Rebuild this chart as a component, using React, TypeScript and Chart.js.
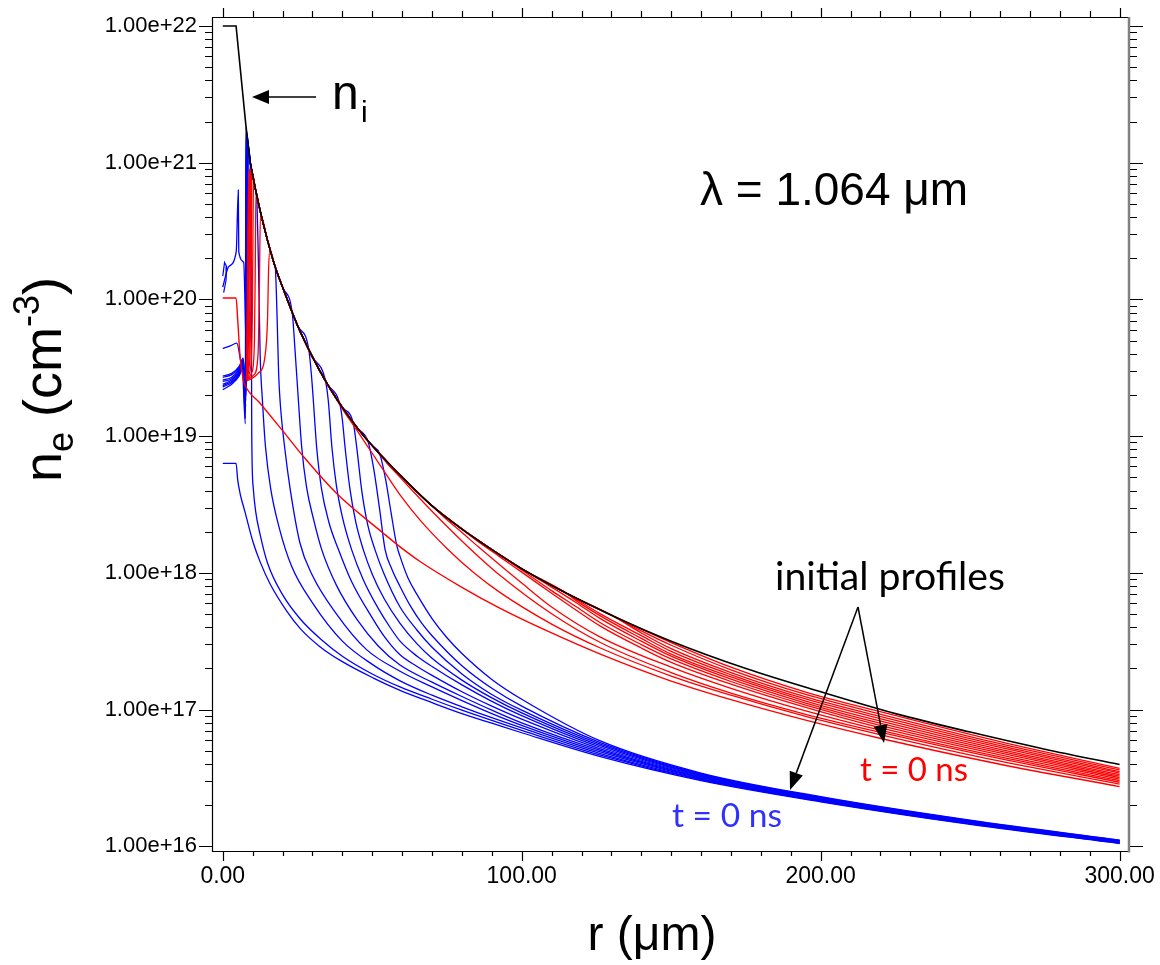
import React, { useEffect, useRef } from 'react';
import { Chart, registerables } from 'chart.js';

Chart.register(...registerables);

type P = [number, number];

// All curve values: [r (µm), log10(n / cm^-3)].

// black n_i curve (steep top part and envelope)
const blackTop: P[] = [[0, 22], [4.45, 22], [7.7, 21.28], [9.2, 21.0]];
const blackR = [9.2, 10, 11, 12.5, 15, 17.5, 20, 25, 30, 35, 40, 45, 50, 60, 70, 80, 90, 100, 115, 130, 150, 175, 200, 225, 250, 275, 300];
const blackLog = [21.0, 20.91, 20.8, 20.65, 20.43, 20.24, 20.09, 19.81, 19.58, 19.38, 19.21, 19.06, 18.93, 18.7, 18.49, 18.32, 18.17, 18.03, 17.85, 17.69, 17.5, 17.3, 17.13, 16.97, 16.835, 16.71, 16.598];

// blue: initial profile (t = 0 ns)
const blueT0: P[] = [[0, 18.8], [4.45, 18.8], [5.0, 18.68], [5.8, 18.58], [7.5, 18.44], [10.2, 18.22], [12.5, 18.08], [15.8, 17.92], [21.4, 17.72], [26, 17.59], [32.5, 17.46], [40, 17.35], [50.4, 17.23], [59.3, 17.14], [70, 17.05], [80, 16.97], [90, 16.9], [100, 16.83], [126.3, 16.655], [160, 16.48], [200, 16.325], [250, 16.16], [300, 16.02]];

// blue later profiles: head (r < 9.2), follows n_i up to envTo, then tail
const blueLater: { head: P[]; envTo: number; tail: P[] }[] = [
  { head: [[0, 19.36], [3, 19.39], [5.5, 19.45], [6.5, 19.5], [7.55, 19.09], [7.72, 21.26], [8.5, 21.1]], envTo: 9.21,
    tail: [[9.5, 20.3], [9.7, 19.0], [10.2, 18.62], [11, 18.45], [12.5, 18.28], [15, 18.07], [20, 17.84], [26, 17.66], [33, 17.51], [40, 17.39], [50, 17.26], [59.3, 17.165], [70, 17.075], [80, 16.995], [90, 16.92], [100, 16.848], [126.3, 16.667], [160, 16.4855], [200, 16.329], [250, 16.163], [300, 16.0225]] },
  { head: [[0, 19.37], [3, 19.4], [5.5, 19.46], [6.6, 19.52], [7.6, 19.13], [7.78, 21.24]], envTo: 11.3,
    tail: [[11.3, 20.77], [11.9, 20.3], [12.5, 19.6], [13.3, 19.25], [14.3, 18.92], [16, 18.62], [19, 18.32], [23, 18.05], [30, 17.78], [40, 17.5], [50, 17.33], [59.3, 17.21], [70, 17.105], [80, 17.02], [90, 16.94], [100, 16.865], [126.3, 16.678], [160, 16.491], [200, 16.3324], [250, 16.166], [300, 16.025]] },
  { head: [[0, 19.38], [3, 19.41], [5.5, 19.47], [6.6, 19.53], [7.65, 19.18], [7.85, 21.22]], envTo: 17.6,
    tail: [[17.6, 20.23], [18.2, 19.85], [18.7, 19.45], [19.3, 19.22], [20.8, 18.9], [22.5, 18.62], [25.8, 18.22], [30, 17.98], [38, 17.7], [48, 17.44], [59.3, 17.28], [70, 17.165], [80, 17.065], [90, 16.97], [100, 16.884], [126.3, 16.6895], [160, 16.4965], [200, 16.336], [250, 16.169], [300, 16.0275]] },
  { head: [[0, 19.4], [3, 19.42], [5.5, 19.48], [6.7, 19.54], [7.7, 19.22], [7.95, 21.2]], envTo: 23.3,
    tail: [[23.3, 19.89], [24.2, 19.62], [25.3, 19.26], [26.4, 18.92], [28, 18.63], [30.5, 18.38], [33.1, 18.17], [38, 17.91], [45, 17.655], [52, 17.465], [59.3, 17.325], [70, 17.2], [80, 17.095], [90, 16.995], [100, 16.902], [126.3, 16.701], [160, 16.502], [200, 16.3398], [250, 16.172], [300, 16.03]] },
  { head: [[0, 19.41], [3, 19.43], [5.5, 19.49], [6.7, 19.55], [7.75, 19.26], [8.05, 21.18]], envTo: 28.8,
    tail: [[28.8, 19.63], [29.8, 19.41], [30.3, 19.26], [31.4, 18.92], [33, 18.62], [35.5, 18.37], [38.7, 18.17], [43, 17.94], [50, 17.67], [54, 17.535], [59.3, 17.4], [65, 17.315], [70, 17.25], [80, 17.13], [90, 17.025], [100, 16.93], [126.3, 16.7125], [160, 16.5075], [200, 16.3435], [250, 16.175], [300, 16.0325]] },
  { head: [[0, 19.43], [3, 19.45], [5.5, 19.5], [6.8, 19.56], [7.8, 19.3], [8.15, 21.16]], envTo: 34.3,
    tail: [[34.3, 19.41], [35.3, 19.26], [36.5, 18.92], [38, 18.64], [40, 18.41], [43.1, 18.17], [47, 17.95], [52, 17.74], [56, 17.6], [59.3, 17.5], [65, 17.39], [70, 17.315], [80, 17.18], [90, 17.06], [100, 16.955], [126.3, 16.724], [160, 16.513], [200, 16.347], [250, 16.178], [300, 16.035]] },
  { head: [[0, 19.44], [3, 19.46], [5.5, 19.51], [6.8, 19.57], [7.85, 19.33], [8.25, 21.14]], envTo: 39.2,
    tail: [[39.2, 19.23], [40, 19.12], [40.9, 18.92], [42.5, 18.62], [44.5, 18.37], [47, 18.17], [50, 17.99], [54, 17.81], [59.3, 17.63], [65, 17.48], [70, 17.375], [80, 17.215], [90, 17.085], [100, 16.975], [126.3, 16.7355], [160, 16.5185], [200, 16.351], [250, 16.181], [300, 16.0375]] },
  { head: [[0, 19.64], [2.5, 19.66], [4.7, 19.68], [6.0, 19.55], [7.9, 19.36], [8.35, 21.12]], envTo: 43.7,
    tail: [[43.7, 19.09], [44.8, 18.92], [46.5, 18.6], [48.5, 18.35], [50.9, 18.17], [54, 17.99], [59.3, 17.75], [65, 17.58], [70, 17.455], [80, 17.26], [90, 17.11], [100, 16.995], [126.3, 16.747], [160, 16.524], [200, 16.355], [250, 16.184], [300, 16.04]] },
  { head: [[0, 20.09], [2, 20.24], [4.5, 20.35], [5.2, 20.8], [5.35, 20.35], [7.0, 20.27], [7.95, 19.6], [8.45, 21.1]], envTo: 48.6,
    tail: [[48.6, 18.96], [50.5, 18.76], [52.5, 18.46], [54.3, 18.17], [56.5, 18.03], [59.3, 17.9], [62.7, 17.76], [66.6, 17.63], [70, 17.54], [80, 17.32], [90, 17.155], [100, 17.025], [126.3, 16.7585], [160, 16.5295], [200, 16.3583], [250, 16.187], [300, 16.0425]] },
  { head: [[0, 19.34], [3, 19.38], [5.5, 19.44], [6.5, 19.49], [8.0, 19.4], [8.55, 21.08]], envTo: 52.5,
    tail: [[52.5, 18.87], [54.5, 18.68], [56.3, 18.44], [58.2, 18.2], [59.3, 18.12], [62, 17.96], [65, 17.84], [70, 17.665], [75, 17.525], [80, 17.41], [90, 17.22], [100, 17.075], [126.3, 16.77], [160, 16.535], [200, 16.362], [250, 16.19], [300, 16.045]] },
];
const blueSquiggle: P[] = [[0, 20.17], [0.6, 20.27], [1.3, 20.24], [1.1, 20.14], [0.3, 20.05]];

// red: initial profile (t = 0 ns)
const redT0: P[] = [[0, 20.01], [4.45, 20.01], [5.0, 19.85], [5.8, 19.58], [6.9, 19.41], [7.5, 19.37], [12.5, 19.24], [20, 19.04], [27, 18.85], [38.1, 18.58], [53.7, 18.29], [59.3, 18.19], [66, 18.083], [80, 17.894], [92.8, 17.74], [110, 17.56], [126.3, 17.405], [150, 17.208], [170, 17.072], [195, 16.922], [219.8, 16.79], [260, 16.6], [300, 16.436]];

// red later profiles: head near the spike, follows n_i from envFrom to envTo, then tail
const redLater: { head: P[]; envFrom: number; envTo: number; tail: P[] }[] = [
  { head: [[7.8, 19.4], [11.9, 19.46], [14.1, 19.58], [15.0, 19.87], [15.3, 20.2], [15.8, 20.36]], envFrom: 17, envTo: 40,
    tail: [[40, 19.2], [44, 19.07], [48, 18.94], [53, 18.775], [59.3, 18.57], [66, 18.385], [74.9, 18.18], [84, 18.0], [92.8, 17.855], [110, 17.625], [126.3, 17.45], [150, 17.245], [170, 17.105], [195, 16.95], [219.8, 16.817], [260, 16.622], [300, 16.455]] },
  { head: [[7.8, 19.41], [10.5, 19.45], [11.8, 19.6], [12.2, 20.0], [12.6, 20.62]], envFrom: 14, envTo: 54,
    tail: [[55, 18.8], [58, 18.73], [62, 18.635], [70, 18.45], [78, 18.275], [85.5, 18.12], [92.8, 17.98], [110, 17.7], [126.3, 17.49], [150, 17.27], [170, 17.12], [195, 16.965], [219.8, 16.834], [260, 16.64], [300, 16.468]] },
  { head: [[7.8, 19.41], [9.8, 19.47], [10.6, 19.7], [10.9, 20.3], [11.1, 20.78]], envFrom: 12, envTo: 72,
    tail: [[74.9, 18.39], [80, 18.295], [85.5, 18.19], [92.8, 18.055], [100, 17.925], [110, 17.75], [126.3, 17.53], [150, 17.31], [170, 17.155], [195, 16.99], [219.8, 16.85], [260, 16.654], [300, 16.48]] },
  { head: [[7.8, 19.42], [9.3, 19.5], [9.9, 19.9], [10.1, 20.5], [10.3, 20.86]], envFrom: 11, envTo: 82,
    tail: [[85, 18.235], [92.8, 18.115], [100, 18.005], [110, 17.85], [118, 17.73], [126.3, 17.61], [140, 17.45], [150, 17.345], [170, 17.185], [195, 17.015], [219.8, 16.867], [260, 16.668], [300, 16.491]] },
  { head: [[7.8, 19.42], [9.0, 19.55], [9.4, 20.0], [9.6, 20.6], [9.8, 20.92]], envFrom: 10.5, envTo: 95,
    tail: [[100, 18.02], [110, 17.87], [118, 17.755], [126.3, 17.635], [140, 17.475], [150, 17.37], [170, 17.205], [195, 17.032], [219.8, 16.884], [260, 16.682], [300, 16.502]] },
  { head: [[7.9, 19.43], [8.8, 19.6], [9.2, 20.2], [9.4, 20.7], [9.7, 20.94]], envFrom: 10.5, envTo: 105,
    tail: [[110, 17.895], [118, 17.785], [126.3, 17.665], [140, 17.5], [150, 17.39], [170, 17.222], [195, 17.047], [219.8, 16.9], [260, 16.695], [300, 16.513]] },
  { head: [[7.9, 19.43], [8.6, 19.7], [8.9, 20.3], [9.3, 20.8], [9.6, 20.95]], envFrom: 10, envTo: 116,
    tail: [[118, 17.8], [126.3, 17.685], [140, 17.52], [150, 17.405], [170, 17.238], [195, 17.062], [219.8, 16.917], [260, 16.709], [300, 16.524]] },
  { head: [[8.0, 19.44], [8.4, 19.8], [8.7, 20.4], [9.2, 20.85], [9.6, 20.95]], envFrom: 10, envTo: 120,
    tail: [[126.3, 17.7], [140, 17.54], [150, 17.425], [170, 17.254], [195, 17.077], [219.8, 16.934], [260, 16.723], [300, 16.535]] },
  { head: [[8.0, 19.45], [8.3, 19.9], [8.6, 20.5], [9.2, 20.9], [9.6, 20.95]], envFrom: 10, envTo: 131,
    tail: [[140, 17.56], [150, 17.445], [170, 17.27], [195, 17.092], [219.8, 16.95], [260, 16.736], [300, 16.546]] },
  { head: [[8.1, 19.46], [8.3, 20.0], [8.6, 20.6], [9.3, 20.95]], envFrom: 10, envTo: 131,
    tail: [[140, 17.575], [150, 17.47], [170, 17.29], [195, 17.11], [219.8, 16.967], [260, 16.75], [300, 16.558]] },
  { head: [[8.1, 19.46], [8.25, 20.1], [8.5, 20.7], [9.3, 20.96]], envFrom: 10, envTo: 131,
    tail: [[150, 17.49], [170, 17.31], [195, 17.128], [219.8, 16.985], [260, 16.765], [300, 16.57]] },
];

// axis ticks and labels
const xTickValues = [0, 100, 200, 300];
const xTickLabels = ['0.00', '100.00', '200.00', '300.00'];
const xMinorStep = 10;
const yTickExponents = [16, 17, 18, 19, 20, 21, 22];
const yTickLabels = ['1.00e+16', '1.00e+17', '1.00e+18', '1.00e+19', '1.00e+20', '1.00e+21', '1.00e+22'];

const BLUE = '#0000ff';
const RED = '#ff0000';
const SANS = "'Liberation Sans', Arial, sans-serif";
const CAL = "Lato, 'Open Sans', sans-serif";

function envSeg(from: number, to: number): P[] {
  const out: P[] = [];
  for (let i = 0; i < blackR.length; i++) if (blackR[i] >= from && blackR[i] < to) out.push([blackR[i], blackLog[i]]);
  return out;
}
const toPts = (arr: P[]) => arr.map(([r, l]) => ({ x: r, y: Math.pow(10, l) }));

function lineDs(pts: P[], color: string, width: number, order: number, straight = false) {
  return {
    data: toPts(pts),
    borderColor: color,
    borderWidth: width,
    pointRadius: 0,
    fill: false,
    order,
    tension: 0,
    cubicInterpolationMode: straight ? 'default' : 'monotone',
  } as any;
}

function arrow(ctx: CanvasRenderingContext2D, x1: number, y1: number, x2: number, y2: number, len = 17, half = 7) {
  const a = Math.atan2(y2 - y1, x2 - x1);
  const bx = x2 - len * Math.cos(a), by = y2 - len * Math.sin(a);
  ctx.beginPath();
  ctx.moveTo(x1, y1);
  ctx.lineTo(bx, by);
  ctx.lineWidth = 1.5;
  ctx.strokeStyle = '#000';
  ctx.stroke();
  ctx.beginPath();
  ctx.moveTo(x2, y2);
  ctx.lineTo(bx + half * Math.sin(a), by - half * Math.cos(a));
  ctx.lineTo(bx - half * Math.sin(a), by + half * Math.cos(a));
  ctx.closePath();
  ctx.fillStyle = '#000';
  ctx.fill();
}

function fitText(ctx: CanvasRenderingContext2D, text: string, x: number, y: number, w: number, family: string, color: string) {
  ctx.font = `100px ${family}`;
  const m = ctx.measureText(text).width;
  const size = (100 * w) / m;
  ctx.font = `${size}px ${family}`;
  ctx.fillStyle = color;
  ctx.textAlign = 'left';
  ctx.textBaseline = 'alphabetic';
  ctx.fillText(text, x, y);
}

const decor = {
  id: 'decor',
  afterDraw(chart: any) {
    const { ctx, chartArea: a } = chart;
    const xs = chart.scales.x, ys = chart.scales.y;
    ctx.save();
    // frame
    ctx.strokeStyle = '#000';
    ctx.lineWidth = 1.2;
    ctx.beginPath();
    ctx.moveTo(a.right, a.top + 0.5); ctx.lineTo(a.left + 0.5, a.top + 0.5);
    ctx.lineTo(a.left + 0.5, a.bottom + 0.5); ctx.lineTo(a.right, a.bottom + 0.5);
    ctx.stroke();
    ctx.strokeStyle = '#808080';
    ctx.lineWidth = 2.5;
    ctx.beginPath(); ctx.moveTo(a.right + 1, a.top); ctx.lineTo(a.right + 1, a.bottom + 1.5); ctx.stroke();

    // ticks
    ctx.strokeStyle = '#000';
    ctx.lineWidth = 1.2;
    ctx.beginPath();
    for (let v = xTickValues[0]; v <= xTickValues[xTickValues.length - 1]; v += xMinorStep) {
      const px = Math.round(xs.getPixelForValue(v)) + 0.5;
      const major = xTickValues.includes(v);
      ctx.moveTo(px, a.bottom); ctx.lineTo(px, a.bottom + (major ? 10 : 5));
      ctx.moveTo(px, a.top); ctx.lineTo(px, a.top - (major ? 9 : 6));
    }
    for (let e = yTickExponents[0] - 1; e <= yTickExponents[yTickExponents.length - 1]; e++) {
      for (let m = 1; m <= 9; m++) {
        const v = m * Math.pow(10, e);
        if (v < ys.min || v > ys.max) continue;
        const py = Math.round(ys.getPixelForValue(v)) + 0.5;
        const L = m === 1 ? 13 : 7;
        ctx.moveTo(a.left, py); ctx.lineTo(a.left - L, py);
        ctx.moveTo(a.right + 2, py); ctx.lineTo(a.right + 2 + L, py);
      }
    }
    ctx.stroke();

    // annotations
    ctx.fillStyle = '#000';
    ctx.textAlign = 'left';
    ctx.textBaseline = 'alphabetic';
    ctx.font = `46px ${SANS}`;
    ctx.fillText('λ = 1.064 μm', 700, 205);
    ctx.font = `48px ${SANS}`;
    ctx.fillText('n', 332, 109);
    ctx.font = `30px ${SANS}`;
    ctx.fillText('i', 361, 122);
    arrow(ctx, 316, 97, 252, 97, 17, 7);

    fitText(ctx, 'initial profiles', 775, 590, 230, CAL, '#000');
    fitText(ctx, 't = 0 ns', 860, 781, 108, CAL, RED);
    fitText(ctx, 't = 0 ns', 672, 827, 110, CAL, '#3030ff');
    arrow(ctx, 858, 607, 884, 743, 18, 7);
    arrow(ctx, 858, 607, 790, 790, 18, 7);

    // axis titles
    ctx.fillStyle = '#000';
    ctx.font = `48px ${SANS}`;
    ctx.textAlign = 'center';
    ctx.fillText('r (μm)', 652, 950);

    ctx.translate(61, 482);
    ctx.rotate(-Math.PI / 2);
    ctx.textAlign = 'left';
    let x = 0;
    const seg = (t: string, size: number, dy: number) => {
      ctx.font = `${size}px ${SANS}`;
      ctx.fillText(t, x, dy);
      x += ctx.measureText(t).width;
    };
    seg('n', 54, 0);
    seg('e', 36, 12);
    seg(' (cm', 54, 0);
    seg('-3', 36, -22);
    seg(')', 54, 0);
    ctx.restore();
  },
};

const zeroPad = (s: any) => {
  s.paddingTop = 0; s.paddingBottom = 0; s.paddingLeft = 0; s.paddingRight = 0;
};

export default function App() {
  const ref = useRef<HTMLCanvasElement>(null);
  useEffect(() => {
    const canvas = ref.current!;
    const datasets: any[] = [];
    datasets.push(lineDs(blackTop, '#000', 1.6, 0, true));
    datasets.push(lineDs(blackR.map((r, i) => [r, blackLog[i]] as P), '#000', 1.6, 0));
    datasets.push(lineDs(redT0, RED, 1.4, 1));
    redLater.forEach((c) => datasets.push(lineDs([...c.head, ...envSeg(c.envFrom, c.envTo), ...c.tail], RED, 1.3, 1)));
    datasets.push(lineDs(blueT0, BLUE, 1.3, 2));
    blueLater.forEach((c) => datasets.push(lineDs([...c.head, ...envSeg(9.2, c.envTo), ...c.tail], BLUE, 1.3, 2)));
    datasets.push(lineDs(blueSquiggle, BLUE, 1.2, 2, true));

    const chart = new Chart(canvas, {
      type: 'line',
      data: { datasets },
      options: {
        animation: false,
        responsive: false,
        devicePixelRatio: 1,
        events: [],
        layout: { padding: { left: 0, right: 32, top: 17, bottom: 0 } },
        plugins: { legend: { display: false }, tooltip: { enabled: false }, title: { display: false } },
        elements: { point: { radius: 0 } },
        scales: {
          x: {
            type: 'linear',
            bounds: 'data',
            min: -3.6,
            max: 302.8,
            grid: { display: false, drawTicks: false },
            border: { display: false },
            afterBuildTicks: (s: any) => { s.ticks = xTickValues.map((v) => ({ value: v })); },
            afterFit: (s: any) => { s.height = 114; zeroPad(s); },
            ticks: {
              autoSkip: false,
              maxRotation: 0,
              padding: 12,
              color: '#000',
              font: { family: SANS, size: 23 },
              callback: (_v: any, i: number) => xTickLabels[i],
            },
          },
          y: {
            type: 'logarithmic',
            bounds: 'data',
            min: Math.pow(10, 15.965),
            max: Math.pow(10, 22.066),
            grid: { display: false, drawTicks: false },
            border: { display: false },
            afterBuildTicks: (s: any) => { s.ticks = yTickExponents.map((e) => ({ value: Math.pow(10, e), major: true })); },
            afterFit: (s: any) => { s.width = 212; zeroPad(s); },
            ticks: {
              autoSkip: false,
              padding: 15,
              color: '#000',
              font: { family: SANS, size: 22 },
              callback: (_v: any, i: number) => yTickLabels[i],
            },
          },
        },
      } as any,
      plugins: [decor],
    });
    return () => chart.destroy();
  }, []);
  return (
    <div style={{ position: 'absolute', left: 0, top: 0, width: 1160, height: 965, background: '#fff' }}>
      <canvas ref={ref} width={1160} height={965} style={{ display: 'block', width: 1160, height: 965 }} />
    </div>
  );
}
